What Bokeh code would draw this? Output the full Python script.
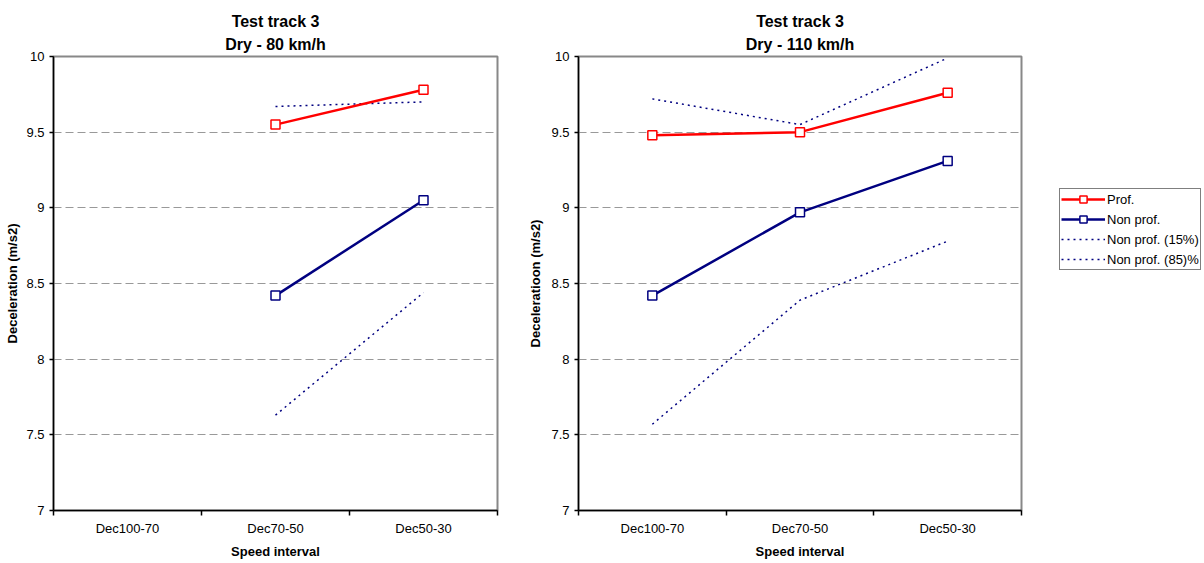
import numpy as np
from bokeh.plotting import figure
from bokeh.layouts import row
from bokeh.models import (Range1d, FixedTicker, NumeralTickFormatter, Title,
                          Legend, LegendItem)
from bokeh.embed import file_html
from bokeh.resources import INLINE

nan = np.nan

# ---- data ----
categories = ["Dec100-70", "Dec70-50", "Dec50-30"]

dry80_prof = [nan, 9.55, 9.78]
dry80_nonprof = [nan, 8.42, 9.05]
dry80_p15 = [nan, 7.63, 8.44]
dry80_p85 = [nan, 9.67, 9.70]

dry110_prof = [9.48, 9.50, 9.76]
dry110_nonprof = [8.42, 8.97, 9.31]
dry110_p15 = [7.57, 8.39, 8.78]
dry110_p85 = [9.72, 9.55, 9.99]

y_ticks = [7, 7.5, 8, 8.5, 9, 9.5, 10]

FONT = "Liberation Sans"
RED = "#FF0000"
NAVY = "#000080"


def make_chart(line1, line2, ylabel, prof, nonprof, p15, p85, fw, fh,
               b_left, b_right, b_top, b_bottom, ylab_standoff, legend=False):
    n = len(categories)
    xs = np.arange(n) + 0.5
    p = figure(frame_width=fw, frame_height=fh, x_range=Range1d(0, n),
               y_range=Range1d(y_ticks[0], y_ticks[-1]), title=None,
               output_backend="svg", toolbar_location=None,
               min_border_left=b_left, min_border_right=b_right,
               min_border_top=b_top, min_border_bottom=b_bottom)
    p.background_fill_color = "white"
    p.border_fill_color = "white"
    p.outline_line_color = "#888888"
    p.outline_line_width = 2

    # x axis: labels at centres, ticks at category boundaries
    xa = p.xaxis[0]
    xa.ticker = FixedTicker(ticks=list(xs), minor_ticks=list(range(n + 1)))
    xa.major_label_overrides = {float(x): c for x, c in zip(xs, categories)}
    xa.major_tick_out = 0
    xa.major_tick_in = 0
    xa.minor_tick_out = 5
    xa.minor_tick_in = 0
    xa.minor_tick_line_color = "black"
    xa.minor_tick_line_width = 1.5
    xa.axis_line_color = "black"
    xa.axis_line_width = 1.5
    xa.major_label_text_font = FONT
    xa.major_label_text_font_size = "13px"
    xa.major_label_text_color = "black"
    xa.major_label_standoff = 5
    xa.axis_label = "Speed interval"
    xa.axis_label_text_font = FONT
    xa.axis_label_text_font_style = "bold"
    xa.axis_label_text_font_size = "13px"
    xa.axis_label_text_color = "black"
    xa.axis_label_standoff = 5

    ya = p.yaxis[0]
    ya.ticker = FixedTicker(ticks=y_ticks, minor_ticks=[])
    ya.formatter = NumeralTickFormatter(format="0.[0]")
    ya.major_tick_out = 4
    ya.major_tick_in = 0
    ya.major_tick_line_color = "black"
    ya.major_tick_line_width = 1.5
    ya.axis_line_color = "black"
    ya.axis_line_width = 1.5
    ya.major_label_text_font = FONT
    ya.major_label_text_font_size = "13px"
    ya.major_label_text_color = "black"
    ya.major_label_standoff = 5
    ya.axis_label = ylabel
    ya.axis_label_text_font = FONT
    ya.axis_label_text_font_style = "bold"
    ya.axis_label_text_font_size = "13px"
    ya.axis_label_text_color = "black"
    ya.axis_label_standoff = ylab_standoff

    p.xgrid.visible = False
    p.ygrid.ticker = FixedTicker(ticks=y_ticks)
    p.ygrid.grid_line_color = "#999999"
    p.ygrid.grid_line_width = 1
    p.ygrid.grid_line_dash = "8 4"

    r15 = p.line(xs, p15, line_color=NAVY, line_width=1.5, line_dash="2 4")
    r85 = p.line(xs, p85, line_color=NAVY, line_width=1.5, line_dash="2 4")
    rnl = p.line(xs, nonprof, line_color=NAVY, line_width=2.5)
    rns = p.scatter(xs, nonprof, marker="square", size=9, fill_color="white",
                    line_color=NAVY, line_width=1.5)
    rpl = p.line(xs, prof, line_color=RED, line_width=2.5)
    rps = p.scatter(xs, prof, marker="square", size=9, fill_color="white",
                    line_color=RED, line_width=1.5)

    for txt, so in ((line2, 8), (line1, 0)):
        p.add_layout(Title(text=txt, align="center", text_font=FONT,
                           text_font_style="bold", text_font_size="16px",
                           text_color="black", standoff=so), "above")

    if legend:
        leg = Legend(items=[
            LegendItem(label="Prof.", renderers=[rpl, rps]),
            LegendItem(label="Non prof.", renderers=[rnl, rns]),
            LegendItem(label="Non prof. (15%)", renderers=[r15]),
            LegendItem(label="Non prof. (85)%", renderers=[r85]),
        ], location=(38, 240))
        leg.border_line_color = "black"
        leg.border_line_width = 1
        leg.background_fill_color = "white"
        leg.background_fill_alpha = 1
        leg.label_text_font = FONT
        leg.label_text_font_size = "13px"
        leg.label_text_color = "black"
        leg.glyph_width = 44
        leg.glyph_height = 18
        leg.label_height = 18
        leg.label_standoff = 2
        leg.spacing = 2
        leg.padding = 1
        leg.margin = 0
        p.add_layout(leg, "right")
    return p


p1 = make_chart("Test track 3", "Dry - 80 km/h", "Deceleration (m/s2)",
                dry80_prof, dry80_nonprof, dry80_p15, dry80_p85,
                fw=444, fh=454, b_left=53, b_right=2, b_top=54,
                b_bottom=38, ylab_standoff=3, legend=False)
p2 = make_chart("Test track 3", "Dry - 110 km/h", "Deceleratioon (m/s2)",
                dry110_prof, dry110_nonprof, dry110_p15, dry110_p85,
                fw=443, fh=454, b_left=79, b_right=167, b_top=56,
                b_bottom=36, ylab_standoff=5, legend=True)

layout = row(p1, p2, spacing=0)
open("out.html", "w").write(file_html(layout, INLINE))
